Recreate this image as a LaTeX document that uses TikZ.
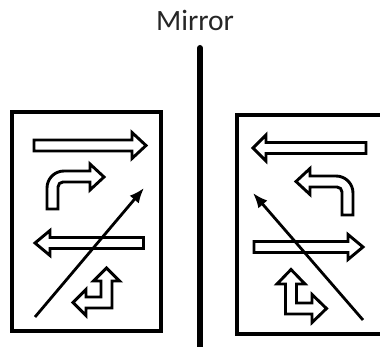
\documentclass[tikz,border=0pt]{standalone}
\usepackage{fontspec}
\setmainfont{Carlito}
\usetikzlibrary{arrows.meta}
\begin{document}
\begin{tikzpicture}[x=1pt,y=-1pt,
  frame/.style={line width=4.5pt},
  hollow/.style={draw=black,fill=white,line width=2.9pt,line join=miter},
  ray/.style={line width=2.8pt,-{Latex[length=15pt,width=12pt]}}]
\clip (0,0) rectangle (380,347);
\fill[white] (0,0) rectangle (380,347);

% caption and the mirror line
\node[font=\fontsize{29.5}{31}\selectfont, text=black!85, anchor=base] (label) at (195,30.5) {Mirror};
\draw[line width=6pt, line cap=round] (200,48) -- (200,360);

% ---------- left panel ----------
\draw[frame] (12,112) rectangle (161,331);
% long arrow to the right
\draw[hollow] (34,140) -- (132,140) -- (132,132.5) -- (146,145.5) -- (132,158.5) -- (132,151) -- (34,151) -- cycle;
% bent arrow, up then right
\draw[hollow] (47,209) -- (47,188) .. controls (47,178.6) and (54.6,171) .. (64,171)
  -- (90,171) -- (90,164) -- (104,177) -- (90,190) -- (90,182) -- (63,182)
  .. controls (60.2,182) and (58,184.2) .. (58,187) -- (58,209) -- cycle;
% long arrow to the left
\draw[hollow] (143.5,237.5) -- (50,237.5) -- (50,230.5) -- (35,243) -- (50,255.5) -- (50,248.5) -- (143.5,248.5) -- cycle;
% corner arrow, up and left
\draw[hollow] (106.5,268) -- (119.5,281) -- (112,281) -- (112,308) -- (86,308) -- (86,315.5)
  -- (73,302.5) -- (86,289.5) -- (86,297) -- (101,297) -- (101,281) -- (93.5,281) -- cycle;
% diagonal ray
\draw[ray] (35,317) -- (144,188);

% ---------- right panel ----------
\draw[frame] (237,115) rectangle (390,334);
% long arrow to the left
\draw[hollow] (366,142.5) -- (266,142.5) -- (266,135) -- (253,148) -- (266,161) -- (266,153.5) -- (366,153.5) -- cycle;
% bent arrow, up then left
\draw[hollow] (353,215) -- (353,193) .. controls (353,183.6) and (345.4,176) .. (336,176)
  -- (310,176) -- (310,168.5) -- (296,181.5) -- (310,194.5) -- (310,187) -- (337,187)
  .. controls (339.8,187) and (342,189.2) .. (342,192) -- (342,215) -- cycle;
% long arrow to the right
\draw[hollow] (254,241.5) -- (348,241.5) -- (348,234.5) -- (363,247) -- (348,259.5) -- (348,252.5) -- (254,252.5) -- cycle;
% corner arrow, up and right
\draw[hollow] (291,269.5) -- (305,284) -- (296.5,284) -- (296.5,303) -- (312,303) -- (312,294.5)
  -- (326.5,308.5) -- (312,322.5) -- (312,314) -- (285.5,314) -- (285.5,284) -- (277,284) -- cycle;
% diagonal ray
\draw[ray] (363,320) -- (253,193);
\end{tikzpicture}
\end{document}
